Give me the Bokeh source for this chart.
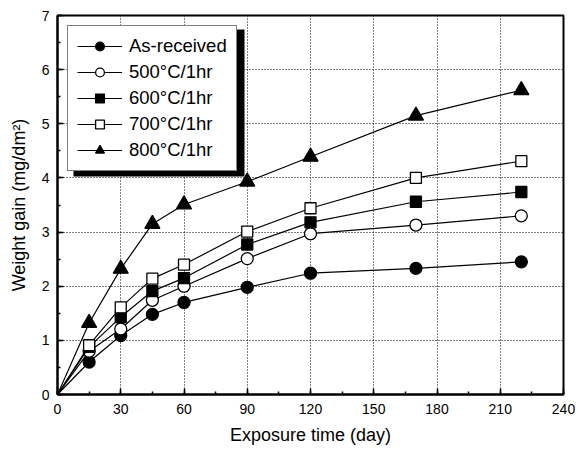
from bokeh.plotting import figure
from bokeh.models import Legend, LegendItem, SingleIntervalTicker, BoxAnnotation, ColumnDataSource
from bokeh.embed import file_html
from bokeh.resources import INLINE

# ---- data ----
days = [15, 30, 45, 60, 90, 120, 170, 220]
as_received = [0.60, 1.09, 1.48, 1.70, 1.98, 2.24, 2.33, 2.45]
t500 = [0.80, 1.21, 1.74, 2.00, 2.51, 2.97, 3.13, 3.30]
t600 = [0.88, 1.43, 1.91, 2.15, 2.77, 3.18, 3.56, 3.74]
t700 = [0.91, 1.61, 2.14, 2.40, 3.01, 3.44, 4.00, 4.31]
t800 = [1.32, 2.32, 3.15, 3.51, 3.93, 4.39, 5.15, 5.62]
origin_day = 0
origin_gain = 0.0
labels = ["As-received", "500°C/1hr", "600°C/1hr", "700°C/1hr", "800°C/1hr"]
x_ticks_interval = 30
y_ticks_interval = 1

FONT = "Liberation Sans"
FRAME_H = 381

p = figure(width=575, height=447, x_range=(0, 240), y_range=(0, 7),
           output_backend="svg", toolbar_location=None,
           min_border_left=57, min_border_top=15, min_border_right=12, min_border_bottom=51)
p.outline_line_color = "black"
p.outline_line_width = 2

xt = SingleIntervalTicker(interval=x_ticks_interval, num_minor_ticks=2)
yt = SingleIntervalTicker(interval=y_ticks_interval, num_minor_ticks=2)
p.xaxis[0].ticker = xt
p.yaxis[0].ticker = yt
p.xgrid.grid_line_color = "black"
p.ygrid.grid_line_color = "black"
p.xgrid.grid_line_width = 1
p.ygrid.grid_line_width = 1
p.xgrid.grid_line_dash = "1 2"
p.ygrid.grid_line_dash = "1 2"

series = [as_received, t500, t600, t700, t800]
styles = [
    dict(marker="circle", fill_color="black", size=12),
    dict(marker="circle", fill_color="white", size=12),
    dict(marker="square", fill_color="black", size=11),
    dict(marker="square", fill_color="white", size=11),
    dict(marker="triangle", fill_color="black", size=15),
]

items = []
for lab, vals, st in zip(labels, series, styles):
    src_line = ColumnDataSource(dict(x=[origin_day] + days, y=[origin_gain] + vals))
    src_pts = ColumnDataSource(dict(x=days, y=vals))
    r1 = p.line("x", "y", source=src_line, line_color="black", line_width=1.2)
    r2 = p.scatter("x", "y", source=src_pts, marker=st["marker"], size=st["size"],
                   fill_color=st["fill_color"], line_color="black", line_width=1.3)
    items.append(LegendItem(label=lab, renderers=[r1, r2]))

# legend shadow (screen units, relative to the frame's bottom-left corner)
LEG_W, LEG_H, MARGIN, OFF = 171, 147, 10, 6
shadow = BoxAnnotation(left=MARGIN + OFF, right=MARGIN + LEG_W + OFF,
                       top=FRAME_H - MARGIN - OFF, bottom=FRAME_H - MARGIN - LEG_H - OFF,
                       left_units="screen", right_units="screen",
                       top_units="screen", bottom_units="screen",
                       fill_color="black", fill_alpha=1.0, line_color=None, level="overlay")
p.add_layout(shadow)

legend = Legend(items=items, location="top_left", margin=MARGIN,
                padding=9, spacing=4, label_height=22, glyph_height=22, glyph_width=45,
                label_standoff=7,
                label_text_font=FONT, label_text_font_size="18.5px", label_text_color="black",
                border_line_color="black", border_line_width=1.5,
                background_fill_color="white", background_fill_alpha=1.0)
p.add_layout(legend)

for ax in (p.xaxis[0], p.yaxis[0]):
    ax.axis_line_width = 2
    ax.axis_line_color = "black"
    ax.major_tick_in = 6
    ax.major_tick_out = 0
    ax.minor_tick_in = 3
    ax.minor_tick_out = 0
    ax.major_tick_line_width = 1.5
    ax.minor_tick_line_width = 1.5
    ax.major_tick_line_color = "black"
    ax.minor_tick_line_color = "black"
    ax.major_label_text_font = FONT
    ax.major_label_text_font_size = "14px"
    ax.major_label_text_color = "black"
    ax.axis_label_text_font = FONT
    ax.axis_label_text_font_size = "18px"
    ax.axis_label_text_font_style = "normal"
    ax.axis_label_text_color = "black"

p.xaxis[0].axis_label = "Exposure time (day)"
p.yaxis[0].axis_label = "Weight gain (mg/dm²)"
p.xaxis[0].major_label_standoff = 9
p.xaxis[0].axis_label_standoff = 8
p.yaxis[0].major_label_standoff = 8
p.yaxis[0].axis_label_standoff = 10

open("out.html", "w").write(file_html(p, INLINE))
